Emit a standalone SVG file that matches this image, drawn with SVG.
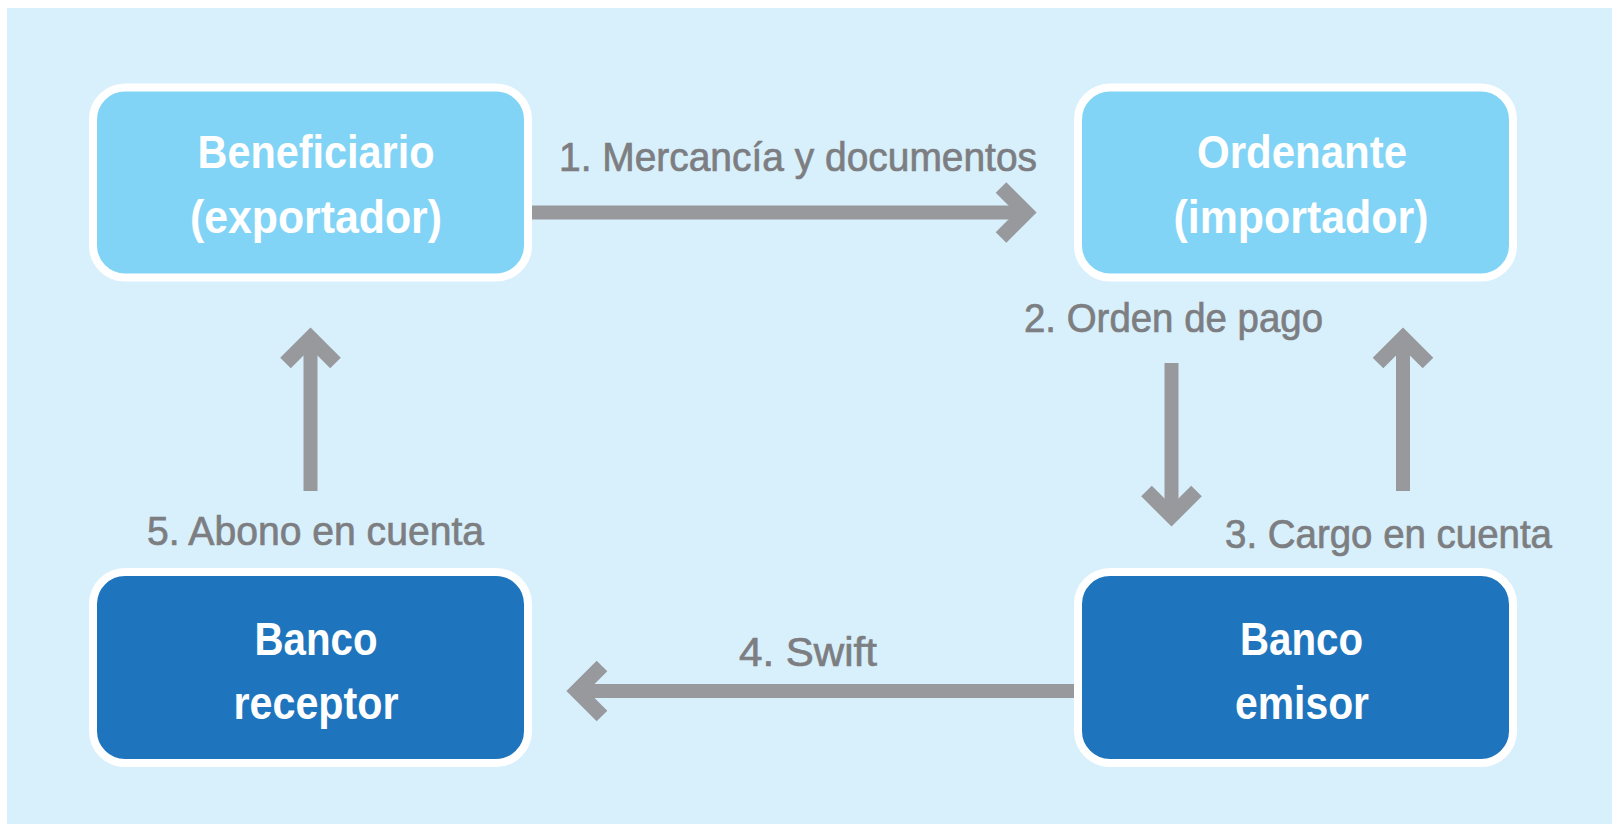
<svg xmlns="http://www.w3.org/2000/svg" width="1618" height="829" viewBox="0 0 1618 829">
<style>
.node rect{stroke:#FFFFFF;stroke-width:8}
.light rect{fill:#82D4F6}
.dark rect{fill:#1F75BD}
.nt{font-family:"Liberation Sans",Arial,sans-serif;font-weight:bold;font-size:46px;fill:#FFFFFF;text-anchor:middle}
.lbl{font-family:"Liberation Sans",Arial,sans-serif;font-size:40px;fill:#7D7E82;stroke:#7D7E82;stroke-width:0.7;text-anchor:middle}
.conn path{fill:none;stroke:#98999D;stroke-width:14;stroke-linecap:butt}
</style>
<defs>
<marker id="chev" markerUnits="userSpaceOnUse" orient="auto" refX="0" refY="0" markerWidth="60" markerHeight="80" overflow="visible">
<path d="M-25,-25 L0,0 L-25,25" fill="none" stroke="#98999D" stroke-width="15" stroke-linejoin="miter" stroke-miterlimit="4"/>
</marker>
</defs>
<rect x="7" y="8" width="1605" height="816" fill="#D8F0FC"/>
<g id="connectors" class="conn">
<path id="c1" d="M532,212.5 L1026,212.5" marker-end="url(#chev)"/>
<path id="c2" d="M1171.5,363 L1171.5,516" marker-end="url(#chev)"/>
<path id="c3" d="M1403,491 L1403,338" marker-end="url(#chev)"/>
<path id="c4" d="M1074,691 L577,691" marker-end="url(#chev)"/>
<path id="c5" d="M310.5,491 L310.5,338" marker-end="url(#chev)"/>
</g>
<g id="labels">
<text class="lbl" x="798" y="171" textLength="478" lengthAdjust="spacingAndGlyphs">1. Mercancía y documentos</text>
<text class="lbl" x="1173.5" y="332" textLength="299" lengthAdjust="spacingAndGlyphs">2. Orden de pago</text>
<text class="lbl" x="1388.5" y="548" textLength="327" lengthAdjust="spacingAndGlyphs">3. Cargo en cuenta</text>
<text class="lbl" x="808" y="666" textLength="138" lengthAdjust="spacingAndGlyphs">4. Swift</text>
<text class="lbl" x="315.5" y="545" textLength="337" lengthAdjust="spacingAndGlyphs">5. Abono en cuenta</text>
</g>
<g id="beneficiario" class="node light">
<rect x="93" y="87.5" width="435" height="190" rx="32"/>
<text class="nt" x="316" y="168" textLength="237" lengthAdjust="spacingAndGlyphs">Beneficiario</text>
<text class="nt" x="316" y="233" textLength="252" lengthAdjust="spacingAndGlyphs">(exportador)</text>
</g>
<g id="ordenante" class="node light">
<rect x="1078" y="87.5" width="435" height="190" rx="32"/>
<text class="nt" x="1302" y="168" textLength="210" lengthAdjust="spacingAndGlyphs">Ordenante</text>
<text class="nt" x="1301" y="233" textLength="255" lengthAdjust="spacingAndGlyphs">(importador)</text>
</g>
<g id="banco-receptor" class="node dark">
<rect x="93" y="572" width="435" height="191" rx="32"/>
<text class="nt" x="316" y="655" textLength="123" lengthAdjust="spacingAndGlyphs">Banco</text>
<text class="nt" x="316" y="719" textLength="165" lengthAdjust="spacingAndGlyphs">receptor</text>
</g>
<g id="banco-emisor" class="node dark">
<rect x="1078" y="572" width="435" height="191" rx="32"/>
<text class="nt" x="1301.5" y="655" textLength="123" lengthAdjust="spacingAndGlyphs">Banco</text>
<text class="nt" x="1302" y="719" textLength="134" lengthAdjust="spacingAndGlyphs">emisor</text>
</g>
</svg>
